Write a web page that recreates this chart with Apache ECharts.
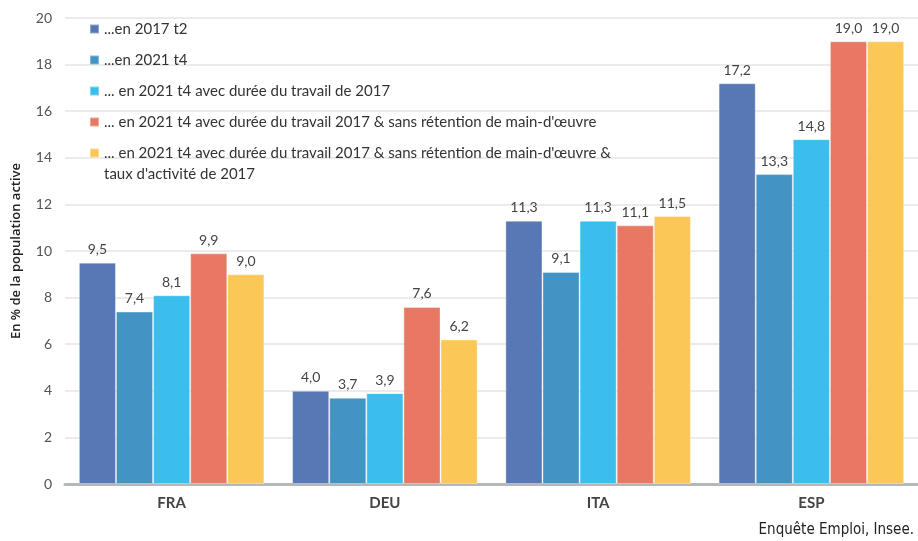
<!DOCTYPE html>
<html>
<head>
<meta charset="utf-8">
<script src="https://cdn.jsdelivr.net/npm/echarts@6/dist/echarts.min.js"></script>
<style>
  html, body { margin: 0; padding: 0; background: #fff; }
  #chart { width: 918px; height: 541px; }
</style>
</head>
<body>
<div id="chart"></div>
<script>
  const countries = ['FRA', 'DEU', 'ITA', 'ESP']
  const seriesNames = [
    '...en 2017 t2',
    '...en 2021 t4',
    '... en 2021 t4 avec durée du travail de 2017',
    '... en 2021 t4 avec durée du travail 2017 & sans rétention de main-d\'œuvre',
    '... en 2021 t4 avec durée du travail 2017 & sans rétention de main-d\'œuvre &\ntaux d\'activité de 2017'
  ]
  const en2017t2 = [9.5, 4.0, 11.3, 17.2]
  const en2021t4 = [7.4, 3.7, 9.1, 13.3]
  const dureeTravail = [8.1, 3.9, 11.3, 14.8]
  const sansRetention = [9.9, 7.6, 11.1, 19.0]
  const tauxActivite = [9.0, 6.2, 11.5, 19.0]
  const colors = ['#5778b4', '#4394c4', '#3bbeee', '#e87864', '#fbc756']

  const font = 'Lato, "Noto Sans", sans-serif'
  const chart = echarts.init(document.getElementById('chart'))

  const values = [en2017t2, en2021t4, dureeTravail, sansRetention, tauxActivite]

  chart.setOption({
    animation: false,
    color: colors,
    textStyle: { fontFamily: font },
    grid: { left: 65, right: -1, top: 18, bottom: 57 },
    legend: {
      orient: 'vertical',
      left: 84,
      top: 14,
      itemWidth: 9,
      itemHeight: 9,
      itemGap: 11,
      icon: 'rect',
      textStyle: { fontSize: 15, color: '#333', fontFamily: font, lineHeight: 20 },
      // seule la première ligne à côté du carré, la suite est posée en dessous
      formatter: name => name.split('\n')[0],
      data: seriesNames
    },
    xAxis: {
      type: 'category',
      data: countries,
      axisTick: { show: false },
      axisLine: { lineStyle: { color: '#b5b8b8', width: 3 } },
      axisLabel: { fontSize: 15, color: '#444', fontWeight: 'bold', margin: 12 }
    },
    yAxis: {
      type: 'value',
      min: 0,
      max: 20,
      interval: 2,
      name: 'En % de la population active',
      nameLocation: 'middle',
      nameGap: 42,
      nameTextStyle: { fontSize: 13, color: '#222', fontWeight: 600, fontFamily: '"Open Sans", sans-serif' },
      axisLabel: { fontSize: 14, color: '#555', margin: 13 },
      splitLine: { lineStyle: { color: '#ebebeb', width: 2 } }
    },
    series: values.map((v, i) => ({
      name: seriesNames[i],
      type: 'bar',
      data: v,
      barGap: '0%',
      barCategoryGap: '13%',
      itemStyle: { borderColor: 'rgba(255,255,255,0.35)', borderWidth: 1 },
      label: {
        show: true,
        position: 'top',
        distance: 6,
        fontSize: 14,
        color: '#444',
        formatter: p => p.value.toFixed(1).replace('.', ',')
      }
    })),
    graphic: [{
      type: 'text',
      style: {
        x: 104,
        y: 174,
        text: seriesNames[4].split('\n')[1],
        fontSize: 15,
        fill: '#333',
        fontFamily: font,
        verticalAlign: 'middle'
      }
    }, {
      type: 'text',
      right: 4,
      bottom: 3,
      style: {
        text: 'Enquête Emploi, Insee.',
        fontSize: 15,
        fill: '#222',
        fontFamily: '"Liberation Sans Narrow", "DejaVu Sans Condensed", sans-serif'
      }
    }]
  })
</script>
</body>
</html>
